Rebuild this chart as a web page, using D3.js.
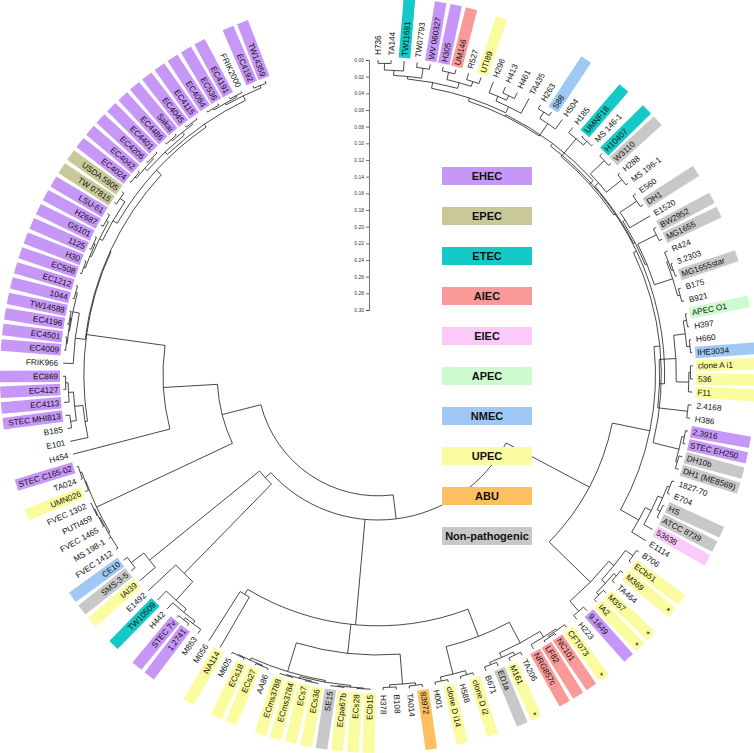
<!DOCTYPE html>
<html><head><meta charset="utf-8">
<script src="https://cdn.jsdelivr.net/npm/d3@7"></script>
<style>body{margin:0;background:#fff} text{font-family:"Liberation Sans",Arial,sans-serif}</style>
</head><body>
<svg id="chart" width="754" height="753"></svg>
<script>
const leafNames = ["H736","TA144","TW11681","TW07793","WV 060327","H305","UM146","R527","UTI89","H296","H413","H461","TA435","H263","S88","H504","H185","UMNF18","MS 146-1","H10407","W3110","H288","MS 196-1","E560","DH1","E1520","BW2952","MG1655","R424","3.2303","MG1655star","B175","B921","APEC O1","H397","H660","IHE3034","clone A i1","536","F11","2.4168","H386","2.3916","STEC EH250","DH10b","DH1 (ME8569)","1827-70","E704","HS","ATCC 8739","53638","E1114","B706","ECb51","M369","TA464","M357","IA2","9.1649","H223","CFT073","NC101","LF82","NRG857c","TA206","M161","ED1a","B671","clone D i2","H588","clone D i14","H001","83972","TA014","B108","H378","ECb15","ECs28","ECpa67b","SE15","ECs36","ECs7","ECms3784","ECms3788","AA86","ECs27","ECs18","M605","NA114","M056","M863","1.2741","STEC 7v","H442","TW10509","E1492","IAI39","SMS-3-5","CE10","FVEC 1412","MS 198-1","FVEC 1465","PUTI459","FVEC 1302","UMN026","TA024","STEC C165-02","H454","E101","B185","STEC MHI813","EC4113","EC4127","EC869","FRIK966","EC4009","EC4501","EC4196","TW14588","1044","EC1212","EC508","H30","1125","G5101","H2687","LSU-61","TW 07815","USDA 5905","EC4024","EC4042","EC4206","EC4401","EC4486","Sakai","EC4045","EC4115","EC4084","EC536","EC4191","FRIK2000","EC4192","TW14359"];

const groupNames = ["EHEC","EPEC","ETEC","AIEC","EIEC","APEC","NMEC","UPEC","ABU","Non-pathogenic"];
const groupColors = ["#c797f7","#c9c89b","#14c9c6","#f99a98","#fbcafa","#cdfbcf","#9fc9f4","#fbfb9f","#fcc062","#c8c8c8"];

const ehecLeaves = ["WV 060327","H305","9.1649","2.3916","STEC EH250","1.2741","STEC 7v","STEC C165-02","STEC MHI813","EC4113","EC4127","EC869","EC4009","EC4501","EC4196","TW14588","1044","EC1212","EC508","H30","1125","G5101","H2687","LSU-61","EC4024","EC4042","EC4206","EC4401","EC4486","Sakai","EC4045","EC4115","EC4084","EC536","EC4191","EC4192","TW14359"];
const epecLeaves = ["USDA 5905","TW 07815"];
const etecLeaves = ["TW11681","UMNF18","H10407","TW10509"];
const aiecLeaves = ["UM146","NC101","LF82","NRG857c"];
const eiecLeaves = ["53638"];
const apecLeaves = ["APEC O1"];
const nmecLeaves = ["S88","IHE3034","CE10"];
const upecLeaves = ["UTI89","clone A i1","536","F11","ECb51","M369","M357","IA2","CFT073","M161","clone D i2","clone D i14","NA114","ECs18","ECs27","ECms3788","ECms3784","ECs7","ECs36","ECpa67b","ECs28","ECb15","IAI39","UMN026"];
const abuLeaves = ["83972"];
const nonpathLeaves = ["W3110","DH1","BW2952","MG1655","MG1655star","DH10b","DH1 (ME8569)","HS","ATCC 8739","ED1a","SE15","SMS-3-5"];
const starredLeaves = ["M369","M357","IA2","CFT073","M161"];

const scaleTicks = [0,0.02,0.04,0.06,0.08,0.10,0.12,0.14,0.16,0.18,0.20,0.22,0.24,0.26,0.28,0.30];

// tree topology: leaf indices into leafNames, each ")h" = node height (distance from tips)
const cladeTop = "((((((0,1)0.004,2)0.012,(3,4)0.006)0.018,((5,6)0.005,(7,8)0.008)0.014)0.021,((9,(10,11)0.008)0.014,12)0.02)0.028,((13,14)0.005,15)0.014)0.032";
const cladeA = "((16,(17,18)0.002)0.008,(((19,20)0.004,(21,22)0.003)0.027,(((23,24)0.004,25)0.028,((26,27)0.004,((28,(29,30)0.002)0.004,(31,32)0.003)0.006)0.029)0.031)0.033)0.036";
const cladeB = "((((33,34)0.002,(35,36)0.002)0.006,((37,38)0.003,39)0.005)0.02,(40,41)0.004)0.04";
const cladeC = "((42,43)0.003,(44,45)0.004)0.006";
const cladeD = "((((46,47)0.003,(48,49)0.002)0.006,50)0.012,51)0.02";
const cladeF = "(((52,53)0.003,((54,55)0.004,(56,57)0.004)0.008)0.014,(58,59)0.006)0.022";
const cladeG = "((((60,(61,62)0.002)0.004,63)0.006,((64,65)0.004,(66,67)0.005)0.008)0.014,((68,69)0.003,(70,71)0.003)0.008)0.042";
const cladeH = "((72,73)0.003,(74,75)0.003)0.006";
const cladeECs = "((((76,77)0.001,(78,79)0.001)0.002,((80,81)0.001,(82,83)0.001)0.002)0.004,((84,85)0.002,(86,87)0.002)0.003)0.006";
const cladeES = "((((90,(91,92)0.003)0.006,93)0.01,94)0.015,95)0.045";
const cladeCE = "(96,(97,98)0.006)0.025";
const cladeP = "((99,100,(101,(102,103)0.001)0.002)0.003,(104,(105,106)0.002)0.004)0.005";
const cladeQ = "(108,((109,110)0.005,(111,(112,113)0.003)0.006)0.012)0.022";
const cladeEHa = "(114,(((115,116)0.002,(117,118)0.002)0.003,(119,120)0.002)0.004)0.012";
const cladeEHb = "((((121,122)0.002,(123,124)0.002)0.004,(125,126)0.003)0.006,(127,128)0.003)0.01";
const cladeEHc = "((((129,130)0.002,(131,132)0.002)0.004,((133,134)0.002,(135,136)0.002)0.004)0.008,(((137,138)0.002,(139,140)0.002)0.004,(141,142)0.003)0.006)0.012";

const cladeR   = `(((((${cladeTop},${cladeA})0.03,${cladeB})0.034,${cladeC})0.038,${cladeD})0.045,${cladeF})0.091`;
const cladeNB2 = `(${cladeG},(${cladeH},${cladeECs})0.042,(88,89)0.07)0.077`;
const cladeNx  = `(${cladeR},${cladeNB2},(${cladeES},${cladeCE})0.195)0.204`;
const cladeNa  = `(107,(${cladeQ},(${cladeEHa},(${cladeEHb},${cladeEHc})0.016)0.024)0.025)0.12`;
const treeString = `(${cladeNx},(${cladeP},${cladeNa})0.185)0.233`;

function parseTree(s){
  s = s.replace(/\s+/g,"");
  let i = 0;
  function num(){ let t=""; while(i<s.length && /[0-9.]/.test(s[i])) t+=s[i++]; return t; }
  function node(){
    if (s[i]==="("){
      i++; const ch=[];
      while(true){ ch.push(node()); if(s[i]===","){i++;continue;} if(s[i]===")"){i++;break;} throw new Error("bad tree at "+i+" of "+s.length); }
      return {children:ch, h:+num()};
    }
    return {leaf:+num(), h:0};
  }
  return node();
}

const cx = 378, cy = 375;
const svg = d3.select("#chart");
const g = svg.append("g");

const colorOf = {};
[ehecLeaves,epecLeaves,etecLeaves,aiecLeaves,eiecLeaves,apecLeaves,nmecLeaves,upecLeaves,abuLeaves,nonpathLeaves]
  .forEach((arr,gi)=>arr.forEach(n=>colorOf[n]=groupColors[gi]));

const root = d3.hierarchy(parseTree(treeString));
const angle = d3.scaleLinear().domain([0, leafNames.length-1]).range([0, 339]);
const rScale = d3.scaleLinear().domain([0, 0.30]).range([315, 65]);

root.eachAfter(n=>{
  if (!n.children) n.a = angle(n.data.leaf);
  else n.a = (n.children[0].a + n.children[n.children.length-1].a)/2;
  n.r = rScale(n.data.h);
});
const rad = d => d*Math.PI/180;
const px = (a,r)=> cx + r*Math.sin(rad(a));
const py = (a,r)=> cy - r*Math.cos(rad(a));

const lineG = g.append("g").attr("fill","none").attr("stroke","#1a1a1a").attr("stroke-width",0.8);
root.descendants().forEach(n=>{
  if (n.parent){
    lineG.append("line")
      .attr("x1",px(n.a,n.parent.r)).attr("y1",py(n.a,n.parent.r))
      .attr("x2",px(n.a,n.r)).attr("y2",py(n.a,n.r));
  }
  if (n.children){
    const a0 = n.children[0].a, a1 = n.children[n.children.length-1].a;
    const p = d3.path();
    p.moveTo(px(a0,n.r),py(a0,n.r));
    p.arc(cx,cy,n.r,rad(a0-90),rad(a1-90),false);
    lineG.append("path").attr("d",p.toString());
  }
});

// labels
const labG = g.append("g");
root.leaves().forEach(n=>{
  const name = leafNames[n.data.leaf];
  const a = n.a;
  const left = a>180;
  const gg = labG.append("g").attr("transform",`translate(${cx},${cy}) rotate(${a-90})`);
  if (colorOf[name]){
    gg.append("rect").attr("x",318).attr("y",-5.8).attr("width",60).attr("height",11.6).attr("fill",colorOf[name]);
  }
  gg.append("text")
    .attr("transform", left ? `translate(320,0) rotate(180)` : `translate(320,0)`)
    .attr("text-anchor", left ? "end" : "start")
    .attr("dy","0.35em")
    .attr("font-size",8.2)
    .attr("fill","#111")
    .text(name);
  if (starredLeaves.includes(name)){
    gg.append("text").attr("transform",`translate(372,0) rotate(90)`)
      .attr("text-anchor","middle").attr("dy","0.35em").attr("font-size",9).attr("fill","#111").text("*");
  }
});

// legend
const leg = g.append("g");
groupNames.forEach((nm,i)=>{
  leg.append("rect").attr("x",442).attr("y",167+40*i).attr("width",90).attr("height",18).attr("fill",groupColors[i]);
  leg.append("text").attr("x",487).attr("y",167+40*i+13).attr("text-anchor","middle")
    .attr("font-size",11).attr("font-weight","bold").attr("fill","#111").text(nm);
});

// scale axis
const yAxisScale = d3.scaleLinear().domain([0,0.30]).range([cy-rScale(0), cy-rScale(0.30)]);
const ax = g.append("g").attr("transform","translate(369,0)")
  .call(d3.axisLeft(yAxisScale).tickValues(scaleTicks).tickFormat(d3.format(".2f")).tickSize(3).tickPadding(2));
ax.selectAll("text").attr("font-size",5).attr("fill","#333");
ax.selectAll("line,path").attr("stroke","#333").attr("stroke-width",0.7);
</script>
</body></html>
